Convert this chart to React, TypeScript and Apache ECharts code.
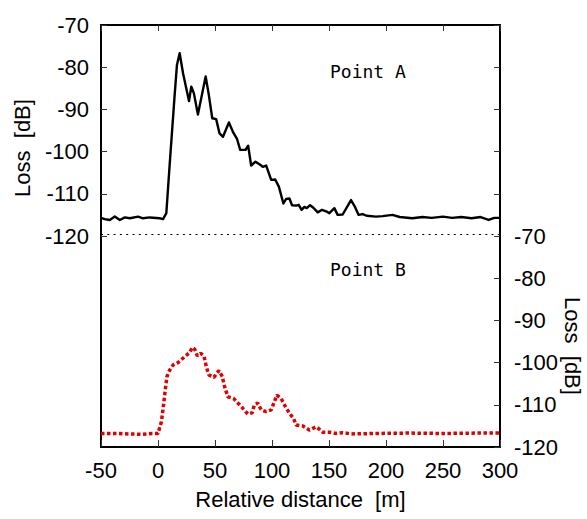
import React, { useEffect, useRef } from "react";
import * as echarts from "echarts";

// Point A (black line, left axis, top half)
const distA = [-50, -46.7, -42.3, -37.9, -33.5, -29.1, -24.7, -17.5, -13.1, -7.3, 1.5, 4.4, 7.3, 10.2, 14.6, 16.6, 19, 22, 27.2, 29.2, 31.5, 35, 41.8, 44.6, 47.6, 51, 54, 57, 62.2, 65.7, 69.2, 72.1, 76.8, 79.1, 81.7, 85.5, 89, 91.9, 94.9, 99.3, 102.8, 106, 110, 112.4, 115.3, 117.6, 121.2, 123.4, 126, 128.4, 130.5, 133.4, 136.3, 140.1, 143.9, 148, 150.3, 154.7, 157.6, 162, 169.3, 172.8, 176, 179.5, 183, 191.2, 197, 205.7, 212, 223, 232, 240, 250, 258, 266, 275, 283, 290, 295, 300];
const lossA = [-115.7, -116.0, -116.2, -115.4, -116.2, -115.6, -115.8, -115.4, -115.8, -115.6, -115.8, -116.0, -114.6, -103.2, -86.6, -79.5, -76.7, -81.5, -88.0, -84.6, -86.2, -91.2, -82.2, -86.6, -92.1, -92.3, -95.7, -96.5, -93.1, -95.3, -96.9, -99.6, -99.6, -98.6, -103.3, -102.4, -103.0, -103.6, -103.3, -106.7, -106.6, -108.3, -112.3, -111.2, -111.1, -112.7, -112.8, -112.6, -113.8, -113.1, -113.4, -112.7, -113.3, -114.4, -113.8, -114.2, -114.6, -113.4, -115.0, -114.9, -111.5, -113.1, -115.0, -114.8, -115.2, -115.4, -115.3, -115.0, -115.5, -115.8, -115.5, -115.7, -115.4, -115.7, -115.5, -115.8, -115.5, -116.2, -115.7, -115.7];

// Point B (red dotted line, right axis, bottom half)
const distB = [-50, -35, -25, -15, -5, 0, 3, 5, 6.7, 7.9, 10.2, 13.1, 17.5, 23.4, 27.8, 30.1, 32.1, 34.5, 37.4, 40.3, 42.4, 44.6, 49, 53.4, 56.4, 58.4, 61.3, 66.3, 73, 78.8, 82.6, 84.6, 87.5, 90.5, 94.9, 99.3, 102.2, 104.2, 108, 110.9, 115.3, 118.8, 121.2, 127, 132.8, 138.7, 141.6, 144.4, 150.3, 156.1, 162, 169.3, 190, 220, 250, 280, 300];
const lossB = [-116.8, -116.8, -116.9, -117.0, -116.8, -116.8, -114.0, -109.7, -105.7, -103.3, -101.8, -100.6, -100.0, -98.6, -97.6, -96.4, -96.8, -98.4, -97.8, -98.4, -101.0, -102.9, -103.5, -101.9, -103.3, -105.7, -108.1, -108.5, -110.4, -112.2, -111.9, -110.0, -109.6, -111.2, -111.6, -111.2, -109.2, -107.7, -108.5, -110.0, -112.0, -113.2, -114.8, -115.0, -116.0, -115.2, -115.8, -116.5, -116.5, -116.8, -116.6, -116.9, -116.8, -116.7, -116.8, -116.7, -116.7];

const xTicks = { min: -50, max: 300, interval: 50 };
const yTicks = { min: -120, max: -70, interval: 10 };
const refLevel = -119.5;

const FONT = "'Liberation Sans', Arial, sans-serif";

export default function App() {
  const ref = useRef<HTMLDivElement>(null);
  useEffect(() => {
    if (!ref.current) return;
    const chart = echarts.init(ref.current, null, { renderer: "svg" });
    const labelStyle = { color: "#000", fontSize: 22, fontFamily: FONT };
    const lineStyle = { color: "#000", width: 2 };
    const tickStyle = { color: "#333", width: 1 };
    const axisLine = { show: true, onZero: false, lineStyle };
    chart.setOption({
      animation: false,
      backgroundColor: "#fff",
      grid: [
        { left: 101, width: 399, top: 25, height: 211 },
        { left: 101, width: 399, top: 236, height: 211 },
      ],
      xAxis: [
        {
          gridIndex: 0, type: "value", position: "top", ...xTicks,
          axisLine,
          axisTick: { show: true, inside: true, length: 6, lineStyle: tickStyle },
          axisLabel: { show: false },
          splitLine: { show: false },
        },
        {
          gridIndex: 1, type: "value", position: "bottom", ...xTicks,
          axisLine,
          axisTick: { show: true, inside: true, length: 7, lineStyle: tickStyle },
          axisLabel: { show: true, margin: 12, ...labelStyle, showMinLabel: true, showMaxLabel: true },
          splitLine: { show: false },
          name: "Relative distance  [m]",
          nameLocation: "middle",
          nameGap: 41,
          nameTextStyle: { color: "#000", fontSize: 22, fontFamily: FONT },
        },
      ],
      yAxis: [
        {
          gridIndex: 0, type: "value", position: "left", ...yTicks,
          axisLine,
          axisTick: { show: true, inside: true, length: 6, lineStyle: tickStyle },
          axisLabel: { show: true, margin: 12, ...labelStyle, showMinLabel: true, showMaxLabel: true },
          splitLine: { show: false },
        },
        {
          gridIndex: 0, type: "value", position: "right", ...yTicks,
          axisLine,
          axisTick: { show: true, inside: true, length: 6, lineStyle: tickStyle },
          axisLabel: { show: false },
          splitLine: { show: false },
        },
        {
          gridIndex: 1, type: "value", position: "right", ...yTicks,
          axisLine,
          axisTick: { show: true, inside: true, length: 6, lineStyle: tickStyle },
          axisLabel: { show: true, margin: 14, ...labelStyle, showMinLabel: true, showMaxLabel: true },
          splitLine: { show: false },
        },
        {
          gridIndex: 1, type: "value", position: "left", ...yTicks,
          axisLine,
          axisTick: { show: false },
          axisLabel: { show: false },
          splitLine: { show: false },
        },
      ],
      series: [
        {
          type: "line",
          xAxisIndex: 0,
          yAxisIndex: 0,
          data: distA.map((d, i) => [d, lossA[i]]),
          showSymbol: false,
          symbol: "none",
          lineStyle: { color: "#000", width: 2.4, join: "round" },
          markLine: {
            silent: true,
            symbol: "none",
            label: { show: false },
            lineStyle: { color: "#000", width: 1, type: [2, 4.3] },
            data: [{ yAxis: refLevel }],
          },
        },
        {
          type: "line",
          xAxisIndex: 1,
          yAxisIndex: 2,
          data: distB.map((d, i) => [d, lossB[i]]),
          showSymbol: false,
          symbol: "none",
          lineStyle: { color: "#e00000", width: 3.5, type: [3.5, 2.5], cap: "butt" },
        },
      ],
      graphic: [
        {
          type: "text", left: 330, top: 62,
          style: { text: "Point A", fill: "#000", font: "18px 'DejaVu Sans Mono', monospace" },
        },
        {
          type: "text", left: 330, top: 260,
          style: { text: "Point B", fill: "#000", font: "18px 'DejaVu Sans Mono', monospace" },
        },
        {
          type: "text", x: 22, y: 148, rotation: Math.PI / 2,
          style: { text: "Loss  [dB]", fill: "#000", font: `22px ${FONT}`, align: "center", verticalAlign: "middle" },
        },
        {
          type: "text", x: 572, y: 346, rotation: -Math.PI / 2,
          style: { text: "Loss  [dB]", fill: "#000", font: `22px ${FONT}`, align: "center", verticalAlign: "middle" },
        },
      ],
    });
    return () => chart.dispose();
  }, []);
  return <div ref={ref} style={{ width: 587, height: 519, position: "absolute", left: 0, top: 0 }} />;
}
